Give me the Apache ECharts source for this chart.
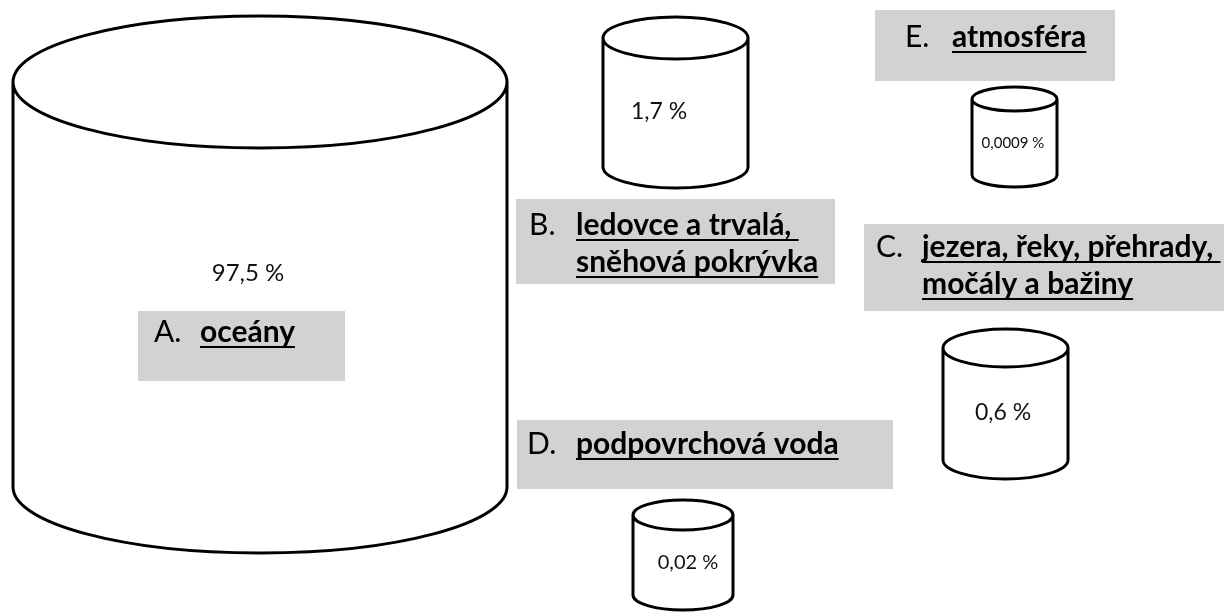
<!DOCTYPE html>
<html>
<head>
<meta charset="utf-8">
<script src="https://cdn.jsdelivr.net/npm/echarts@6/dist/echarts.min.js"></script>
<style>
  html, body { margin: 0; padding: 0; background: #fff; }
  #chart { width: 1224px; height: 612px; }
</style>
</head>
<body>
<div id="chart"></div>
<script>
// zásoby vody na Zemi
var letters = ["A.", "B.", "C.", "D.", "E."];
var reservoirs = [
  ["oceány"],
  ["ledovce a trvalá, ", "sněhová pokrývka"],
  ["jezera, řeky, přehrady, ", "močály a bažiny"],
  ["podpovrchová voda"],
  ["atmosféra"]
];
var shares = [97.5, 1.7, 0.6, 0.02, 0.0009];

// rozložení (v pixelech stránky)
// válec: [levá, pravá, střed horní elipsy, střed dolní elipsy, ry, text x, text y, velikost písma]
var cylinders = [
  [13, 507, 82, 487, 66, 248, 273, 24],
  [603, 748, 38, 167, 21, 659, 112, 23],
  [943, 1068, 348, 460, 19, 1003, 413, 23],
  [633, 733, 515, 595, 15, 688, 563, 20],
  [972, 1057, 99, 175, 12, 1013, 143, 15]
];
// štítek: [x0, y0, x1, y1, písmeno x, název x, první řádek y]
var cards = [
  [138, 311, 345, 381, 154, 200, 332],
  [516, 199, 835, 284, 529, 576, 225],
  [864, 224, 1224, 311, 876, 922, 247],
  [517, 420, 893, 489, 527, 576, 444],
  [875, 10, 1115, 81, 905, 952, 37]
];

var FONT = "Lato";
var nameSize = 30;
var lineGap = 37;

var ctx = document.createElement("canvas").getContext("2d");
function measure(text, font) {
  ctx.font = font;
  return ctx.measureText(text).width;
}
function fmt(v) {
  return String(v).replace(".", ",") + " %";
}

function renderCylinder(params, api) {
  var c = cylinders[params.dataIndex];
  var p0 = api.coord([c[0], c[2]]);
  var p1 = api.coord([c[1], c[3]]);
  var ry = Math.abs(api.size([0, c[4]])[1]);
  var rx = (p1[0] - p0[0]) / 2;
  var d =
    "M" + p0[0] + " " + p0[1] +
    " A" + rx + " " + ry + " 0 1 1 " + p1[0] + " " + p0[1] +
    " A" + rx + " " + ry + " 0 1 1 " + p0[0] + " " + p0[1] + " Z" +
    " M" + p0[0] + " " + p0[1] +
    " L" + p0[0] + " " + p1[1] +
    " A" + rx + " " + ry + " 0 0 0 " + p1[0] + " " + p1[1] +
    " L" + p1[0] + " " + p0[1];
  var t = api.coord([c[5], c[6]]);
  return {
    type: "group",
    children: [
      {
        type: "path",
        shape: { pathData: d },
        style: { fill: "#fff", stroke: "#000", lineWidth: 3 }
      },
      {
        type: "text",
        style: {
          text: fmt(api.value(1)),
          x: t[0],
          y: t[1],
          fill: "#111",
          font: c[7] + "px " + FONT,
          align: "center",
          verticalAlign: "middle"
        }
      }
    ]
  };
}

function renderCard(params, api) {
  var i = params.dataIndex;
  var k = cards[i];
  var a = api.coord([k[0], k[1]]);
  var b = api.coord([k[2], k[3]]);
  var children = [
    {
      type: "rect",
      shape: { x: a[0], y: a[1], width: b[0] - a[0], height: b[1] - a[1] },
      style: { fill: "#d1d2d4" }
    }
  ];
  var lp = api.coord([k[4], k[6]]);
  children.push({
    type: "text",
    style: {
      text: letters[i],
      x: lp[0],
      y: lp[1],
      fill: "#000",
      font: nameSize + "px " + FONT,
      align: "left",
      verticalAlign: "middle"
    }
  });
  var boldFont = "bold " + nameSize + "px " + FONT;
  reservoirs[i].forEach(function (line, j) {
    var p = api.coord([k[5], k[6] + j * lineGap]);
    children.push({
      type: "text",
      style: {
        text: line,
        x: p[0],
        y: p[1],
        fill: "#000",
        font: boldFont,
        align: "left",
        verticalAlign: "middle"
      }
    });
    var w = measure(line, boldFont);
    children.push({
      type: "line",
      shape: { x1: p[0], y1: p[1] + 15, x2: p[0] + w, y2: p[1] + 15 },
      style: { stroke: "#000", lineWidth: 2 }
    });
  });
  return { type: "group", children: children };
}

var chart = echarts.init(document.getElementById("chart"));
var option = {
  animation: false,
  backgroundColor: "#fff",
  grid: { left: 0, right: 0, top: 0, bottom: 0 },
  xAxis: { type: "value", min: 0, max: 1224, show: false },
  yAxis: { type: "value", min: 0, max: 612, inverse: true, show: false },
  series: [
    {
      type: "custom",
      name: "podíl",
      clip: false,
      renderItem: renderCylinder,
      data: shares.map(function (v, i) { return [i, v]; })
    },
    {
      type: "custom",
      name: "štítky",
      clip: false,
      z: 3,
      renderItem: renderCard,
      data: letters.map(function (l, i) { return [i, i]; })
    }
  ]
};
chart.setOption(option);
window.addEventListener("resize", function () {
  chart.resize();
});
</script>
</body>
</html>
